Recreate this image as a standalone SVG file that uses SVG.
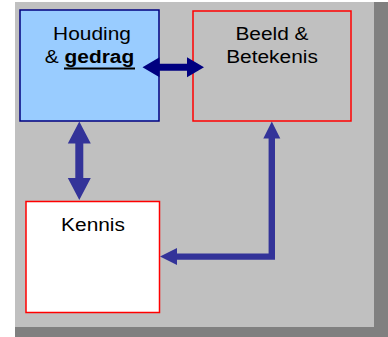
<svg xmlns="http://www.w3.org/2000/svg" width="388" height="337" viewBox="0 0 388 337">
<style>
.t{font-family:"Liberation Sans",Arial,sans-serif;font-size:18px;fill:#000;text-anchor:middle}
.b{font-weight:bold}
.box{stroke-width:1.5}
</style>
<rect x="15" y="2" width="373" height="335" fill="#808080"/>
<rect x="15" y="2" width="359" height="325" fill="#C0C0C0"/>
<g id="houding">
<rect class="box" x="20" y="10" width="139" height="111" fill="#99CCFF" stroke="#000080"/>
<text class="t" transform="translate(92,40) scale(1.16,1)">Houding</text>
<text class="t" transform="translate(89.5,63) scale(1.16,1)">&amp; <tspan class="b">gedrag</tspan></text>
<rect x="64" y="67.5" width="71" height="2" fill="#000"/>
</g>
<g id="beeld">
<rect class="box" x="193" y="11" width="158" height="110" fill="none" stroke="#FF0000"/>
<text class="t" transform="translate(272,40) scale(1.16,1)">Beeld &amp;</text>
<text class="t" transform="translate(272,63) scale(1.16,1)">Betekenis</text>
</g>
<g id="kennis">
<rect class="box" x="26" y="201.5" width="133.5" height="111" fill="#FFFFFF" stroke="#FF0000"/>
<text class="t" transform="translate(93,231) scale(1.16,1)">Kennis</text>
</g>
<g id="connectors">
<polygon fill="#000080" points="142.5,67.3 159.5,57.3 159.5,63.8 187,63.8 187,57.3 204,67.3 187,77.3 187,70.8 159.5,70.8 159.5,77.3"/>
<polygon fill="#333399" points="79.3,121.5 90.8,143.5 83.3,143.5 83.3,178 90.8,178 79.3,200 67.8,178 75.3,178 75.3,143.5 67.8,143.5"/>
<polygon fill="#333399" points="271.8,121.5 280.3,138.5 275,138.5 275,259.8 177,259.8 177,265.1 160,256.6 177,248.1 177,253.4 268.6,253.4 268.6,138.5 263.3,138.5"/>
</g>
</svg>
